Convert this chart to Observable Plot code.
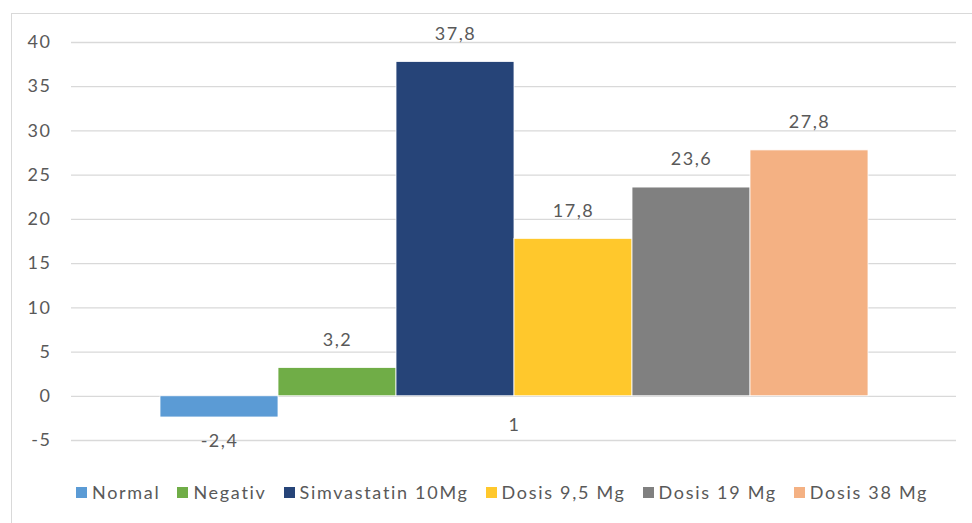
<!DOCTYPE html>
<html>
<head>
<meta charset="utf-8">
<script src="https://cdn.jsdelivr.net/npm/d3@7"></script>
<script src="https://cdn.jsdelivr.net/npm/@observablehq/plot@0.6"></script>
<style>
  html, body { margin: 0; padding: 0; background: #fff; }
  body { width: 972px; height: 523px; overflow: hidden; position: relative; }
  #chart {
    position: absolute; left: 11px; top: 13px; width: 975px; height: 520px;
    border: 1px solid #d9d9d9; box-sizing: border-box; background: #fff;
  }
  #plot { position: absolute; left: 0; top: 0; }
  #plot text { letter-spacing: 1.5px; }
  #legend {
    position: absolute; left: 64px; top: 467px;
    display: flex; gap: 17px; white-space: nowrap;
    font-family: Lato, "Open Sans", sans-serif; font-size: 18px; color: #595959;
    letter-spacing: 1.7px;
  }
  #legend .item { display: flex; align-items: center; gap: 5px; }
  #legend .sw { width: 11px; height: 11px; display: inline-block; }
</style>
</head>
<body>
<div id="chart"><div id="plot"></div><div id="legend"></div></div>
<script>
const categories = ["1"];
const series = ["Normal", "Negativ", "Simvastatin 10Mg", "Dosis 9,5 Mg", "Dosis 19 Mg", "Dosis 38 Mg"];
const values = [-2.4, 3.2, 37.8, 17.8, 23.6, 27.8];
const colors = ["#5b9bd5", "#70ad47", "#264478", "#ffc82c", "#808080", "#f4b183"];
const yTicks = [-5, 0, 5, 10, 15, 20, 25, 30, 35, 40];

const data = series.map((s, i) => ({series: s, value: values[i], category: categories[0]}));
const fmt = v => String(v).replace(".", ",");
const font = "Lato, 'Open Sans', sans-serif";

const plot = Plot.plot({
  width: 960,
  height: 450,
  marginLeft: 59,
  marginRight: 16,
  marginTop: 28,
  marginBottom: 24,
  style: {fontFamily: font, fontSize: "18px", color: "#595959", background: "transparent"},
  x: {domain: series, paddingInner: 0, paddingOuter: 0.75, axis: null},
  y: {domain: [-5, 40], ticks: yTicks, axis: null},
  color: {domain: series, range: colors},
  marks: [
    Plot.ruleY(yTicks, {stroke: "#d9d9d9", strokeWidth: 1.3}),
    Plot.text(yTicks, {y: d => d, frameAnchor: "left", dx: -20, textAnchor: "end", text: d => String(d), fill: "#595959", fontSize: 18}),
    Plot.barY(data, {x: "series", y: "value", fill: "series", stroke: "#ffffff", strokeWidth: 0.8}),
    Plot.text(data.filter(d => d.value >= 0), {x: "series", y: "value", text: d => fmt(d.value), dy: -28, fill: "#595959", fontSize: 18}),
    Plot.text(data.filter(d => d.value < 0), {x: "series", y: "value", text: d => fmt(d.value), dy: 24, fill: "#595959", fontSize: 18}),
    Plot.text(categories, {x: () => series[2], y: () => 0, text: d => d, dx: 59, dy: 29, fill: "#595959", fontSize: 18})
  ]
});
document.getElementById("plot").appendChild(plot);

const legend = document.getElementById("legend");
series.forEach((s, i) => {
  const item = document.createElement("span");
  item.className = "item";
  const sw = document.createElement("span");
  sw.className = "sw";
  sw.style.background = colors[i];
  const t = document.createElement("span");
  t.textContent = s;
  item.appendChild(sw); item.appendChild(t);
  legend.appendChild(item);
});
</script>
</body>
</html>
